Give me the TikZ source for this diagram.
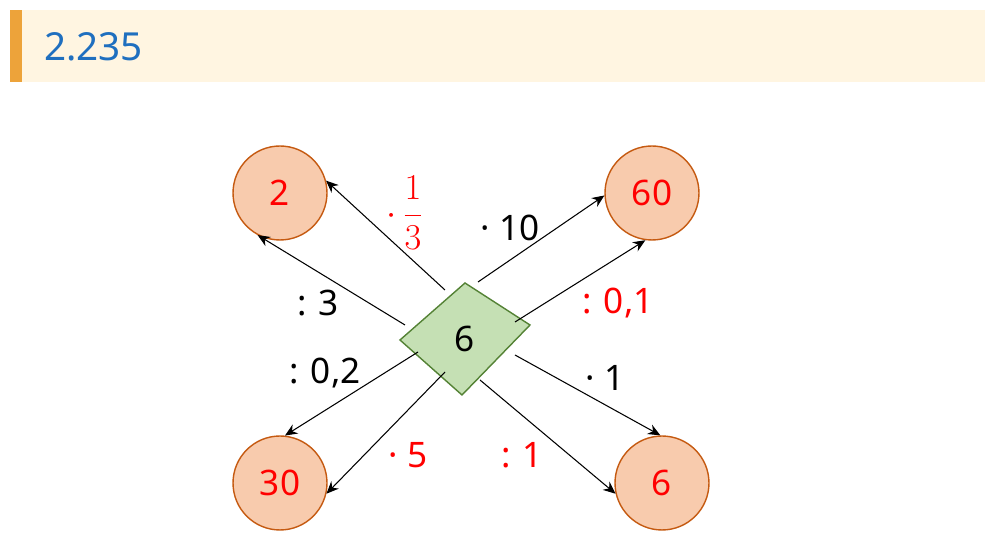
\documentclass[tikz,border=0pt]{standalone}
\usepackage{fontspec}
\setmainfont{Noto Sans}
\usetikzlibrary{arrows.meta}
\definecolor{bandc}{HTML}{FFF5E1}
\definecolor{barc}{HTML}{EDA33A}
\definecolor{titlec}{HTML}{1F6FBF}
\definecolor{ballc}{HTML}{F8CBAD}
\definecolor{balld}{HTML}{C55A11}
\definecolor{diamc}{HTML}{C5E0B4}
\definecolor{diamd}{HTML}{548235}
\begin{document}
\begin{tikzpicture}[x=0.02cm,y=-0.02cm,
        ball/.style={draw=balld, fill=ballc, circle, minimum size=1.88cm, thick, text=red, font=\fontsize{20}{24}\selectfont},
        lbl/.style={font=\fontsize{20}{24}\selectfont},
        redl/.style={lbl, text=red},
        arr/.style={draw, semithick, -{Stealth[length=7pt,width=6pt]}},
    ]
    \useasboundingbox (0,0) rectangle (992,546);
    \fill[bandc] (10,10) rectangle (985,82);
    \fill[barc] (10,10) rectangle (22,82);
    \node[anchor=west, text=titlec, font=\fontsize{22}{26}\selectfont\bfseries] (title) at (38,47) {2.235};
    % diamond
    \draw[diamd, fill=diamc, thick] (400,340) -- (465,283) -- (530,325) -- (462,395) -- cycle;
    \node[lbl] (six) at (465,339) {6};
    \coordinate (a1) at (445,290); \coordinate (a2) at (405,325);
    \coordinate (a3) at (478,282); \coordinate (a4) at (515,322);
    \coordinate (a5) at (418,352); \coordinate (a6) at (445,372);
    \coordinate (a7) at (480,380); \coordinate (a8) at (515,355);
    % balls
    \node[ball] (two) at (280,193) {2};
    \node[ball] (sixty) at (652,193) {60};
    \node[ball] (thirty) at (280,483) {30};
    \node[ball] (sixb) at (662,483) {6};
    % arrows
    \draw[arr] (a1) -- (two.15);
    \draw[arr] (a2) -- (two.-118);
    \draw[arr] (a3) -- (sixty.183);
    \draw[arr] (a4) -- (sixty.-98);
    \draw[arr] (a5) -- (thirty.84);
    \draw[arr] (a6) -- (thirty.-13);
    \draw[arr] (a7) -- (sixb.193);
    \draw[arr] (a8) -- (sixb.92);
    % labels
    \node[text=red, font=\fontsize{20}{24}\selectfont] (l1) at (405,213) {$\cdot\,\displaystyle\frac{1}{3}$};
    \node[lbl] (l2) at (318,303) {: 3};
    \node[lbl] (l3) at (510,228) {· 10};
    \node[redl] (l4) at (618,303) {: 0,1};
    \node[lbl] (l5) at (325,373) {: 0,2};
    \node[redl] (l6) at (408,455) {· 5};
    \node[redl] (l7) at (522,455) {: 1};
    \node[lbl] (l8) at (605,378) {· 1};
\end{tikzpicture}
\end{document}
